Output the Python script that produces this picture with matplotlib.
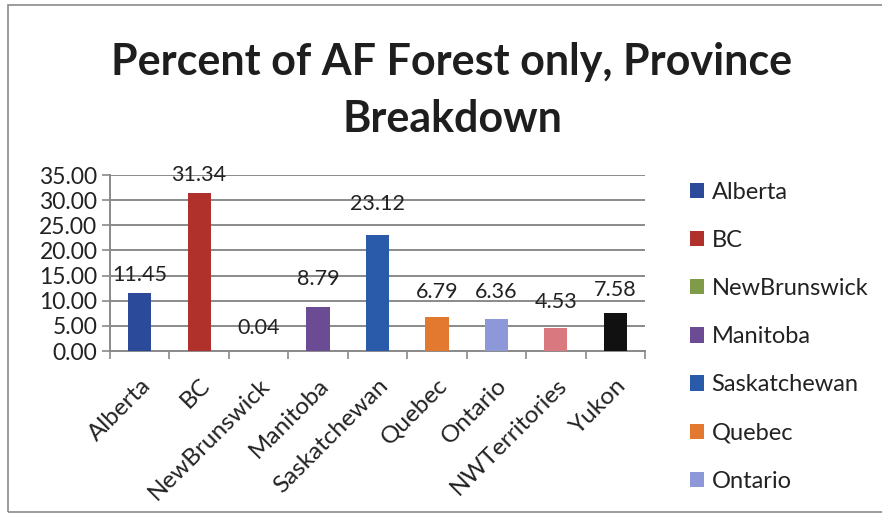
import matplotlib
matplotlib.use("Agg")
import matplotlib.pyplot as plt
from matplotlib.patches import Patch, Rectangle

# Province shares of AF forest (percent)
provinces = ["Alberta", "BC", "NewBrunswick", "Manitoba", "Saskatchewan",
             "Quebec", "Ontario", "NWTerritories", "Yukon"]
percent = [11.45, 31.34, 0.04, 8.79, 23.12, 6.79, 6.36, 4.53, 7.58]
bar_colors = ["#2B4A9A", "#B0302C", "#7F9A48", "#6B4B94", "#2A5BAA",
              "#E2792F", "#8C98D8", "#D9797F", "#111111"]
y_ticks = [0, 5, 10, 15, 20, 25, 30, 35]
legend_count = 7  # entries that fit in the legend box

# vertical offset of each value label above its bar (points)
label_offsets = [6, 6, 9, 13, 15, 11, 12, 12, 9]

plt.rcParams["font.family"] = ["Lato", "DejaVu Sans"]

fig = plt.figure(figsize=(8.82, 5.2), dpi=100)
W, H = 882, 520

# outer chart border
fig.add_artist(Rectangle((8 / W, 1 - 512 / H), (900 - 8) / W, (512 - 5) / H,
                         transform=fig.transFigure, fill=False,
                         edgecolor="#8a8a8a", linewidth=1.2))

ax = fig.add_axes([110 / W, 1 - 351 / H, (645 - 110) / W, (351 - 175) / H])

x = list(range(len(provinces)))
ax.bar(x, percent, width=0.39, color=bar_colors, zorder=3)

for xi, v, off in zip(x, percent, label_offsets):
    ax.annotate(f"{v:.2f}", (xi, v), xytext=(0, off), textcoords="offset points",
                ha="center", va="bottom", fontsize=15.5, color="#222222", zorder=4)

ax.set_xlim(-0.5, len(provinces) - 0.5)
ax.set_ylim(0, 35)
ax.set_yticks(y_ticks)
ax.set_yticklabels([f"{t:.2f}" for t in y_ticks], fontsize=16.5, color="#222222")
ax.yaxis.grid(True, color="#8a8a8a", linewidth=1.4, zorder=0)
ax.set_axisbelow(True)

# category ticks sit at the boundaries between bars
ax.set_xticks([i - 0.5 for i in range(len(provinces) + 1)], minor=False)
ax.set_xticklabels([])
ax.set_xticks(x, minor=True)
ax.set_xticklabels(provinces, minor=True, rotation=45, ha="right",
                   rotation_mode="anchor", fontsize=17.5, color="#222222")
ax.tick_params(axis="x", which="minor", length=0, pad=17)
ax.tick_params(axis="x", which="major", length=6, color="#8a8a8a", width=1.2)
ax.tick_params(axis="y", length=6, color="#8a8a8a", width=1.2, pad=3)

for side in ("top", "right"):
    ax.spines[side].set_visible(False)
for side in ("left", "bottom"):
    ax.spines[side].set_color("#8a8a8a")
    ax.spines[side].set_linewidth(1.4)

fig.text(452 / W, 1 - 42 / H, "Percent of AF Forest only, Province\nBreakdown",
         ha="center", va="top", fontsize=31, fontweight="bold",
         color="#1e1e1e", linespacing=1.5, transform=fig.transFigure)

handles = [Patch(facecolor=c, edgecolor="none")
           for c in bar_colors[:legend_count]]
fig.legend(handles, provinces[:legend_count], loc="upper left",
           bbox_to_anchor=(678 / W, 1 - 170 / H), frameon=False,
           fontsize=17, handlelength=0.62, handleheight=0.62,
           handletextpad=0.3, labelspacing=1.15, borderpad=0,
           labelcolor="#222222")

fig.savefig("out.png", dpi=100, facecolor="white")
